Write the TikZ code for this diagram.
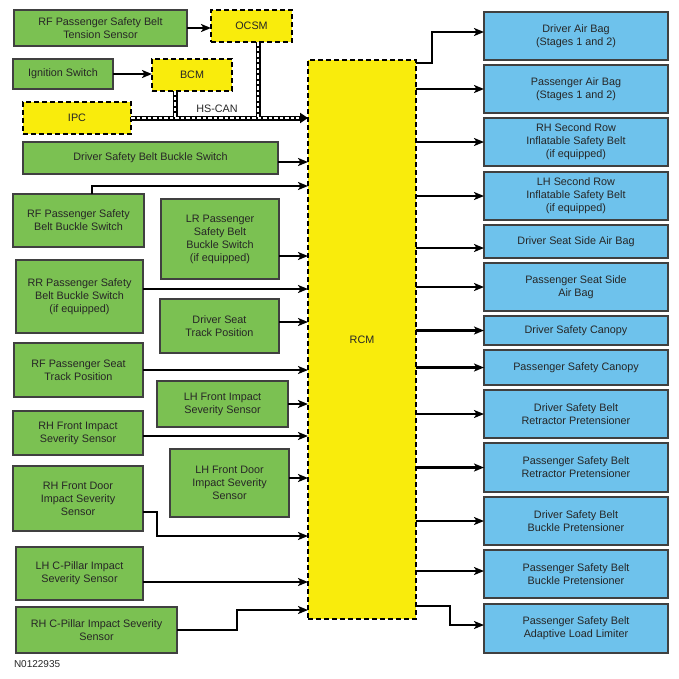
\documentclass[tikz,border=0pt]{standalone}
\usepackage{fontspec}
\setmainfont{Liberation Sans}
\usetikzlibrary{arrows.meta,positioning}

\definecolor{sensorgreen}{RGB}{123,193,82}
\definecolor{outblue}{RGB}{110,194,236}
\definecolor{modyellow}{RGB}{249,236,12}

\begin{document}
\begin{tikzpicture}[x=1pt,y=-1pt,
    every node/.style={font=\fontsize{10.8}{13}\selectfont,text=black!85,align=center,inner sep=1pt,outer sep=0pt},
    sensor/.style={draw=black!75,line width=1.1pt,fill=sensorgreen},
    output/.style={draw=black!75,line width=1.1pt,fill=outblue,minimum width=184pt},
    module/.style={draw=black,line width=1.3pt,dash pattern=on 5pt off 3pt,fill=modyellow},
    sig/.style={line width=2.5pt,-{Stealth[length=10pt,width=8pt,inset=2.5pt]}},
    bus/.style={line width=5pt,black},
    busdash/.style={line width=1.8pt,white,dash pattern=on 3.5pt off 2pt}]
  \useasboundingbox (0,0) rectangle (679,678);

  % inputs
  \node[sensor,minimum width=173pt,minimum height=36pt] (tens)   at (100.5,28)  {RF Passenger Safety Belt\\Tension Sensor};
  \node[module,minimum width=81pt,minimum height=32pt]  (ocsm)   at (251.5,26)  {OCSM};
  \node[sensor,minimum width=100pt,minimum height=30pt] (ign)    at (63,74)     {Ignition Switch};
  \node[module,minimum width=80pt,minimum height=32pt]  (bcm)    at (192,75)    {BCM};
  \node[module,minimum width=108pt,minimum height=32pt] (ipc)    at (77,118)    {IPC};
  \node[sensor,minimum width=255pt,minimum height=32pt] (dsbbs)  at (150.5,158) {Driver Safety Belt Buckle Switch};
  \node[sensor,minimum width=131pt,minimum height=53pt] (rfbbs)  at (78.5,220.5) {RF Passenger Safety\\Belt Buckle Switch};
  \node[sensor,minimum width=118pt,minimum height=80pt] (lrbbs)  at (220,239)   {LR Passenger\\Safety Belt\\Buckle Switch\\(if equipped)};
  \node[sensor,minimum width=127pt,minimum height=73pt] (rrbbs)  at (79.5,296.5) {RR Passenger Safety\\Belt Buckle Switch\\(if equipped)};
  \node[sensor,minimum width=119pt,minimum height=54pt] (dstp)   at (219.5,326) {Driver Seat\\Track Position};
  \node[sensor,minimum width=129pt,minimum height=54pt] (rfstp)  at (78.5,370)  {RF Passenger Seat\\Track Position};
  \node[sensor,minimum width=131pt,minimum height=46pt] (lhfis)  at (222.5,404) {LH Front Impact\\Severity Sensor};
  \node[sensor,minimum width=130pt,minimum height=44pt] (rhfis)  at (78,433)    {RH Front Impact\\Severity Sensor};
  \node[sensor,minimum width=119pt,minimum height=68pt] (lhfdis) at (229.5,483) {LH Front Door\\Impact Severity\\Sensor};
  \node[sensor,minimum width=130pt,minimum height=65pt] (rhfdis) at (78,498.5)  {RH Front Door\\Impact Severity\\Sensor};
  \node[sensor,minimum width=127pt,minimum height=53pt] (lhcp)   at (79.5,573.5) {LH C-Pillar Impact\\Severity Sensor};
  \node[sensor,minimum width=161pt,minimum height=46pt] (rhcp)   at (96.5,630)  {RH C-Pillar Impact Severity\\Sensor};

  \node[module,minimum width=108pt,minimum height=559pt] (rcm) at (362,339.5) {RCM};

  % outputs
  \node[output,minimum height=48pt] (dab)   at (576,36)    {Driver Air Bag\\(Stages 1 and 2)};
  \node[output,minimum height=48pt] (pab)   at (576,89)    {Passenger Air Bag\\(Stages 1 and 2)};
  \node[output,minimum height=48pt] (rhisb) at (576,142)   {RH Second Row\\Inflatable Safety Belt\\(if equipped)};
  \node[output,minimum height=48pt] (lhisb) at (576,196)   {LH Second Row\\Inflatable Safety Belt\\(if equipped)};
  \node[output,minimum height=33pt] (dssab) at (576,241.5) {Driver Seat Side Air Bag};
  \node[output,minimum height=48pt] (pssab) at (576,287)   {Passenger Seat Side\\Air Bag};
  \node[output,minimum height=29pt] (dsc)   at (576,330.5) {Driver Safety Canopy};
  \node[output,minimum height=35pt] (psc)   at (576,367.5) {Passenger Safety Canopy};
  \node[output,minimum height=48pt] (dsbrp) at (576,414)   {Driver Safety Belt\\Retractor Pretensioner};
  \node[output,minimum height=49pt] (psbrp) at (576,467.5) {Passenger Safety Belt\\Retractor Pretensioner};
  \node[output,minimum height=48pt] (dsbbp) at (576,521)   {Driver Safety Belt\\Buckle Pretensioner};
  \node[output,minimum height=48pt] (psbbp) at (576,574)   {Passenger Safety Belt\\Buckle Pretensioner};
  \node[output,minimum height=49pt] (psall) at (576,628.5) {Passenger Safety Belt\\Adaptive Load Limiter};

  \node (can) at (217,109) {HS-CAN};
  \node[anchor=west,font=\fontsize{10}{12}\selectfont] (fig) at (13,664) {N0122935};

  % HS-CAN bus
  \draw[bus] ([xshift=-17pt]bcm.south) -- ([xshift=-17pt]bcm.south |- ipc.east);
  \draw[bus] ([xshift=6.5pt]ocsm.south) -- ([xshift=6.5pt]ocsm.south |- ipc.east);
  \draw[bus,-{Triangle[length=8pt,width=10pt]}] (ipc.east) -- (ipc.east -| rcm.west);
  \draw[busdash] ([xshift=-17pt]bcm.south) -- ([xshift=-17pt]bcm.south |- ipc.east);
  \draw[busdash] ([xshift=6.5pt]ocsm.south) -- ([xshift=6.5pt]ocsm.south |- ipc.east);
  \draw[busdash,shorten >=9pt] (ipc.east) -- (ipc.east -| rcm.west);

  % input signals
  \draw[sig] (tens.east) -- (tens.east -| ocsm.west);
  \draw[sig] (ign.east) -- (ign.east -| bcm.west);
  \draw[sig] ([yshift=-4pt]dsbbs.east) -- ([yshift=-4pt]dsbbs.east -| rcm.west);
  \draw[sig] ([xshift=13.5pt]rfbbs.north) |- ([yshift=8pt]rfbbs.north -| rcm.west);
  \draw[sig] ([yshift=-17pt]lrbbs.east) -- ([yshift=-17pt]lrbbs.east -| rcm.west);
  \draw[sig] ([yshift=7.5pt]rrbbs.east) -- ([yshift=7.5pt]rrbbs.east -| rcm.west);
  \draw[sig] ([yshift=4pt]dstp.east) -- ([yshift=4pt]dstp.east -| rcm.west);
  \draw[sig] (rfstp.east) -- (rfstp.east -| rcm.west);
  \draw[sig] (lhfis.east) -- (lhfis.east -| rcm.west);
  \draw[sig] ([yshift=-3pt]rhfis.east) -- ([yshift=-3pt]rhfis.east -| rcm.west);
  \draw[sig] ([yshift=5pt]lhfdis.east) -- ([yshift=5pt]lhfdis.east -| rcm.west);
  \draw[sig] ([yshift=-13.5pt]rhfdis.east) -- ++(14,0) |- ([yshift=-37.5pt]rhfdis.east -| rcm.west);
  \draw[sig] ([yshift=-8.5pt]lhcp.east) -- ([yshift=-8.5pt]lhcp.east -| rcm.west);
  \draw[sig] (rhcp.east) -- ++(60,0) |- ([yshift=20pt]rhcp.east -| rcm.west);

  % output signals
  \draw[sig] ([yshift=-3pt]rcm.north east) -- ++(16,0) |- ([yshift=4pt]dab.west);
  \draw[sig] (rcm.east |- pab.west) -- (pab.west);
  \draw[sig] (rcm.east |- rhisb.west) -- (rhisb.west);
  \draw[sig] (rcm.east |- lhisb.west) -- (lhisb.west);
  \draw[sig] ([yshift=-6.5pt]dssab.west -| rcm.east) -- ([yshift=-6.5pt]dssab.west);
  \draw[sig] (rcm.east |- pssab.west) -- (pssab.west);
  \draw[sig] (rcm.east |- dsc.west) -- (dsc.west);
  \draw[sig] (rcm.east |- psc.west) -- (psc.west);
  \draw[sig] (rcm.east |- dsbrp.west) -- (dsbrp.west);
  \draw[sig] (rcm.east |- psbrp.west) -- (psbrp.west);
  \draw[sig] (rcm.east |- dsbbp.west) -- (dsbbp.west);
  \draw[sig] ([yshift=3pt]psbbp.west -| rcm.east) -- ([yshift=3pt]psbbp.west);
  \draw[sig] ([yshift=13pt]rcm.south east) -- ++(34,0) |- ([yshift=3.5pt]psall.west);
\end{tikzpicture}
\end{document}
